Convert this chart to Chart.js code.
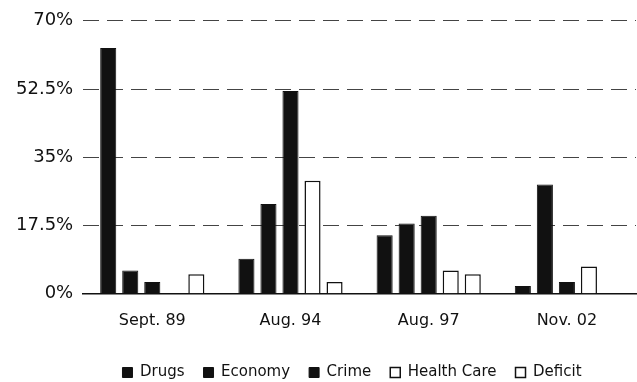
<!DOCTYPE html>
<html>
<head>
<meta charset="utf-8">
<script src="https://cdn.jsdelivr.net/npm/chart.js@4.4.1/dist/chart.umd.min.js"></script>
<style>
  html, body { margin: 0; padding: 0; background: #fff; }
  #wrap { width: 637px; height: 382px; }
</style>
</head>
<body>
<div id="wrap"><canvas id="myChart"></canvas></div>
<script>
// survey dates
const categories = ['Sept. 89', 'Aug. 94', 'Aug. 97', 'Nov. 02'];

// percent naming each issue as most important
const drugs      = [63, 9, 15, 2];
const economy    = [6, 23, 18, 28];
const crime      = [3, 52, 20, 3];
const healthCare = [0, 29, 6, 7];
const deficit    = [5, 3, 5, 0];

const yTicks = [0, 17.5, 35, 52.5, 70];

function solid(label, values) {
    return {
        label: label,
        data: values,
        backgroundColor: '#111',
        borderColor: '#111',
        borderWidth: 1,
    };
}

function open(label, values) {
    return {
        label: label,
        data: values,
        backgroundColor: '#fff',
        borderColor: '#111',
        borderWidth: 1.5,
    };
}

const data = {
    labels: categories,
    datasets: [
        solid('Drugs', drugs),
        solid('Economy', economy),
        solid('Crime', crime),
        open('Health Care', healthCare),
        open('Deficit', deficit),
    ],
};

// legend sits a little right of centre in the original
const legendShift = {
    id: 'legendShift',
    afterLayout(chart) {
        chart.legend.left += 31;
        chart.legend.right += 31;
    }
};

const config = {
    type: 'bar',
    data: data,
    plugins: [legendShift],
    options: {
        responsive: true,
        maintainAspectRatio: false,
        animation: false,
        layout: { padding: { top: 7, left: 6, right: 1, bottom: -8 } },
        datasets: {
            bar: { categoryPercentage: 0.797, barPercentage: 0.73 }
        },
        scales: {
            x: {
                grid: { display: false },
                border: { display: true, color: '#111', width: 1.5 },
                ticks: {
                    color: '#111',
                    padding: 9,
                    font: { family: 'DejaVu Sans', size: 16 },
                },
                afterFit: function (scale) { scale.height += 7; },
            },
            y: {
                min: 0,
                max: 70,
                afterBuildTicks: function (scale) {
                    scale.ticks = yTicks.map(v => ({ value: v }));
                },
                grid: {
                    drawTicks: false,
                    color: ctx => ctx.tick && ctx.tick.value === 0 ? 'rgba(0,0,0,0)' : '#444',
                    lineWidth: 1,
                },
                border: { display: false, dash: [16, 8] },
                ticks: {
                    color: '#111',
                    padding: 10,
                    font: { family: 'DejaVu Sans', size: 18 },
                    callback: v => v + '%',
                },
            },
        },
        plugins: {
            legend: {
                position: 'bottom',
                labels: {
                    color: '#111',
                    boxWidth: 10,
                    boxHeight: 10,
                    padding: 19,
                    font: { family: 'DejaVu Sans', size: 15 },
                },
            },
            tooltip: { enabled: false },
        },
    },
};

const myChart = new Chart(document.getElementById('myChart'), config);
</script>
</body>
</html>
